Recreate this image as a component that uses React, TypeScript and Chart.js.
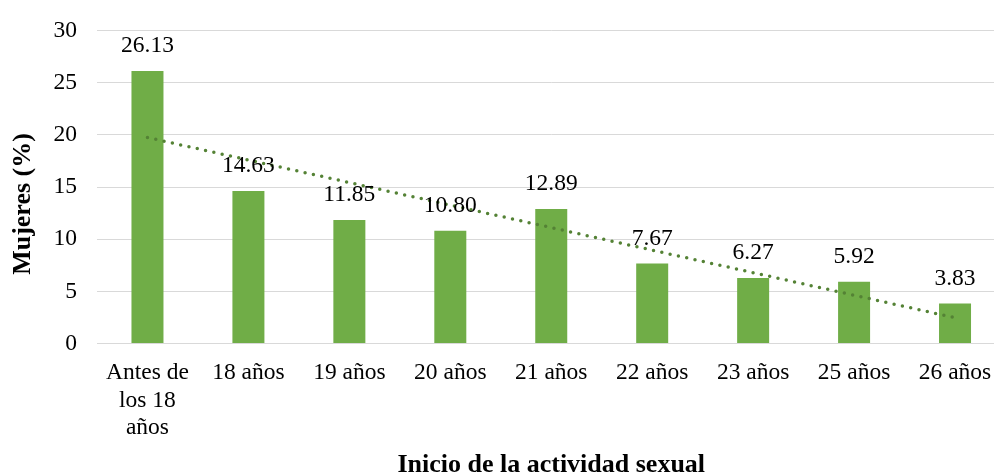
import React, { useEffect, useRef } from "react";
import { Chart, registerables } from "chart.js";

Chart.register(...registerables);

const categories: (string | string[])[] = [
  ["Antes de", "los 18", "años"],
  "18 años",
  "19 años",
  "20 años",
  "21 años",
  "22 años",
  "23 años",
  "25 años",
  "26 años",
];

const mujeres: number[] = [26.13, 14.63, 11.85, 10.8, 12.89, 7.67, 6.27, 5.92, 3.83];

const yTicks = { min: 0, max: 30, step: 5 };

const yTitle = "Mujeres (%)";
const xTitle = "Inicio de la actividad sexual";

const FONT = "'Liberation Serif', 'Times New Roman', serif";

// Linear least-squares trend over the category positions 1..n
function linearTrend(values: number[]): number[] {
  const n = values.length;
  const xs = values.map((_, i) => i + 1);
  const mx = xs.reduce((a, b) => a + b, 0) / n;
  const my = values.reduce((a, b) => a + b, 0) / n;
  let sxy = 0;
  let sxx = 0;
  xs.forEach((x, i) => {
    sxy += (x - mx) * (values[i] - my);
    sxx += (x - mx) * (x - mx);
  });
  const slope = sxy / sxx;
  const icpt = my - slope * mx;
  return xs.map((x) => icpt + slope * x);
}

// Value labels above each bar
const valueLabels = {
  id: "valueLabels",
  afterDatasetsDraw(chart: any) {
    const ctx = chart.ctx;
    const meta = chart.getDatasetMeta(0);
    const data = chart.data.datasets[0].data as number[];
    ctx.save();
    ctx.font = `23.5px ${FONT}`;
    ctx.fillStyle = "#000000";
    ctx.textAlign = "center";
    ctx.textBaseline = "middle";
    meta.data.forEach((bar: any, i: number) => {
      ctx.fillText(data[i].toFixed(2), bar.x, bar.y - 25);
    });
    ctx.restore();
  },
};

// Rotated y-axis title
const yAxisTitle = {
  id: "yAxisTitle",
  afterDraw(chart: any) {
    const ctx = chart.ctx;
    ctx.save();
    ctx.translate(23, 204);
    ctx.rotate(-Math.PI / 2);
    ctx.font = `bold 26px ${FONT}`;
    ctx.fillStyle = "#000000";
    ctx.textAlign = "center";
    ctx.textBaseline = "middle";
    ctx.fillText(yTitle, 0, 0);
    ctx.restore();
  },
};

export default function App() {
  const canvasRef = useRef<HTMLCanvasElement | null>(null);

  useEffect(() => {
    if (!canvasRef.current) return;
    const chart = new Chart(canvasRef.current, {
      type: "bar",
      data: {
        labels: categories as any,
        datasets: [
          {
            type: "bar",
            label: "Mujeres",
            data: mujeres,
            backgroundColor: "#70AD47",
            categoryPercentage: 1,
            barPercentage: 0.317,
            order: 1,
          },
          {
            type: "line",
            label: "Lineal",
            data: linearTrend(mujeres),
            borderColor: "#548235",
            borderWidth: 3.5,
            borderDash: [0, 8.5],
            borderCapStyle: "round",
            pointRadius: 0,
            fill: false,
            tension: 0,
            order: 0,
          } as any,
        ],
      },
      options: {
        animation: false,
        responsive: true,
        maintainAspectRatio: false,
        layout: { padding: { top: 8, right: 4.5, bottom: 0, left: 0 } },
        plugins: {
          legend: { display: false },
          tooltip: { enabled: false },
        },
        scales: {
          x: {
            grid: { display: false, drawTicks: false },
            border: { display: true, color: "#D9D9D9", width: 1 },
            ticks: {
              color: "#000000",
              font: { family: FONT, size: 23.5, lineHeight: 1.17 },
              padding: 16,
              maxRotation: 0,
              autoSkip: false,
            },
            title: {
              display: true,
              text: xTitle,
              color: "#000000",
              font: { family: FONT, size: 26, weight: "bold", lineHeight: "20px" as any },
              padding: { top: 0, bottom: 0 },
            },
            afterFit(scale: any) {
              scale.height = 131.5;
            },
          },
          y: {
            min: yTicks.min,
            max: yTicks.max,
            grid: { color: "#D9D9D9", lineWidth: 1, drawTicks: false },
            border: { display: false },
            ticks: {
              stepSize: yTicks.step,
              color: "#000000",
              font: { family: FONT, size: 23.5, lineHeight: 0.9 },
              padding: 20,
            },
            title: { display: false },
            afterFit(scale: any) {
              scale.width = 97;
            },
          },
        },
      },
      plugins: [valueLabels, yAxisTitle],
    });
    return () => chart.destroy();
  }, []);

  return (
    <div style={{ position: "fixed", left: 0, top: 0, width: 1010, height: 475, background: "#ffffff" }}>
      <canvas ref={canvasRef} />
    </div>
  );
}
